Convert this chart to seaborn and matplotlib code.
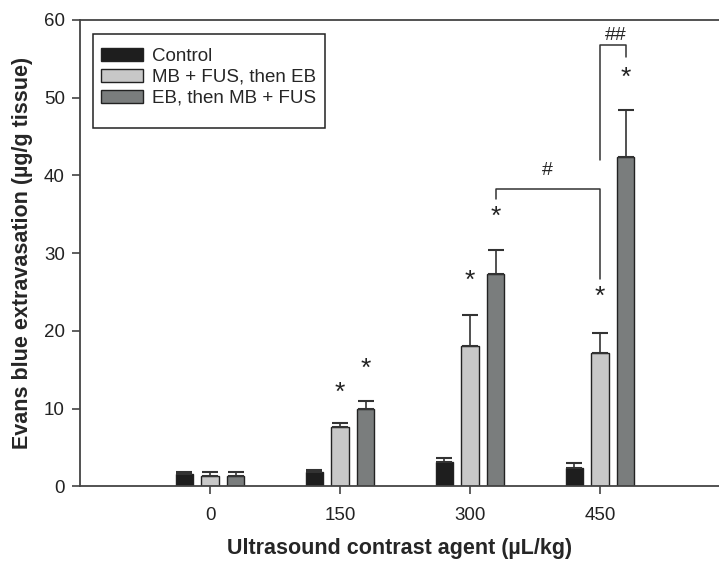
import matplotlib
matplotlib.use("Agg")
import matplotlib.pyplot as plt
import matplotlib.patches as mpatches
import seaborn as sns
import pandas as pd
import numpy as np

doses = ["0", "150", "300", "450"]
groups = ["Control", "MB + FUS, then EB", "EB, then MB + FUS"]
means = {
    "Control": [1.6, 1.8, 3.2, 2.4],
    "MB + FUS, then EB": [1.4, 7.6, 18.1, 17.2],
    "EB, then MB + FUS": [1.3, 10.0, 27.3, 42.4],
}
errs = {
    "Control": [0.2, 0.3, 0.45, 0.65],
    "MB + FUS, then EB": [0.4, 0.6, 4.0, 2.6],
    "EB, then MB + FUS": [0.5, 1.0, 3.1, 6.0],
}
# significance stars above (dose index, group index)
stars = [(1, 1), (1, 2), (2, 1), (2, 2), (3, 1), (3, 2)]
star_y = [12.1, 15.1, 26.4, 34.7, 24.4, 52.5]

colors = ["#1e1e1e", "#c8c8c8", "#7a7d7d"]

sns.set_style("ticks")
plt.rcParams["font.family"] = ["Liberation Sans", "DejaVu Sans"]

df = pd.DataFrame(
    [(d, g, means[g][i]) for g in groups for i, d in enumerate(doses)],
    columns=["dose", "group", "value"],
)

fig = plt.figure(figsize=(7.19, 5.65), dpi=100)
ax = fig.add_axes([0.1113, 0.139, 0.8887, 0.8257])

sns.barplot(data=df, x="dose", y="value", hue="group", order=doses,
            hue_order=groups, palette=colors, width=0.59, gap=0.33,
            errorbar=None, edgecolor="#222222", linewidth=1.0, ax=ax)

# upward-only error bars, positioned at the seaborn bar centres
bar_conts = list(ax.containers)
centers = {}
for gi, cont in enumerate(bar_conts):
    for di, bar in enumerate(cont.patches):
        cx = bar.get_x() + bar.get_width() / 2
        centers[(di, gi)] = cx
        top = bar.get_height()
        e = errs[groups[gi]][di]
        ax.errorbar(cx, top, yerr=[[0], [e]], fmt="none", ecolor="#333333",
                    elinewidth=1.2, capsize=5.8, capthick=1.5, zorder=1)

for (di, gi), yy in zip(stars, star_y):
    ax.text(centers[(di, gi)], yy, "*", ha="center", va="center",
            fontsize=19, color="#222222")

# bracket: 300 EB-then vs 450 MB-then
x1, x2 = centers[(2, 2)], centers[(3, 1)]
ax.plot([x1, x1, x2, x2], [37.0, 38.2, 38.2, 26.7], color="#333333", lw=1.1)
ax.text((x1 + x2) / 2, 40.6, "#", ha="center", va="center", fontsize=14)
# bracket: 450 MB-then vs 450 EB-then
x1, x2 = centers[(3, 1)], centers[(3, 2)]
ax.plot([x1, x1, x2, x2], [42.0, 56.8, 56.8, 55.2], color="#333333", lw=1.1)
ax.text((x1 + x2) / 2 + 0.02, 58.0, "##", ha="center", va="center", fontsize=14)

ax.set_xlim(-1, 3.915)
ax.set_ylim(0, 60)
ax.set_yticks(np.arange(0, 61, 10))
ax.tick_params(axis="both", direction="out", length=6, width=1.1,
               labelsize=13.5, color="#333333", labelcolor="#222222")
ax.tick_params(axis="x", pad=9)
ax.tick_params(axis="y", pad=5)
ax.spines["right"].set_visible(False)
for sp in ["top", "left", "bottom"]:
    ax.spines[sp].set_color("#444444")
    ax.spines[sp].set_linewidth(1.3)

ax.set_xlabel("Ultrasound contrast agent (\u00b5L/kg)", fontsize=15.5,
              fontweight="bold", labelpad=10)
ax.set_ylabel("Evans blue extravasation (\u00b5g/g tissue)", fontsize=15.5,
              fontweight="bold", labelpad=8)

# legend frame drawn separately to match the padding of the original box
frame = mpatches.Rectangle((0.0203, 0.7685), 0.363, 0.2015, transform=ax.transAxes,
                           fill=True, facecolor="white", edgecolor="#222222",
                           linewidth=1.1, zorder=4)
ax.add_patch(frame)
leg = ax.legend(loc="upper left", bbox_to_anchor=(0.033, 0.94), fontsize=13.5,
                frameon=False, handlelength=2.25, handleheight=0.7,
                handletextpad=0.45, borderpad=0.0, labelspacing=0.2,
                borderaxespad=0)
leg.set_zorder(5)

fig.savefig("out.png", dpi=100)
